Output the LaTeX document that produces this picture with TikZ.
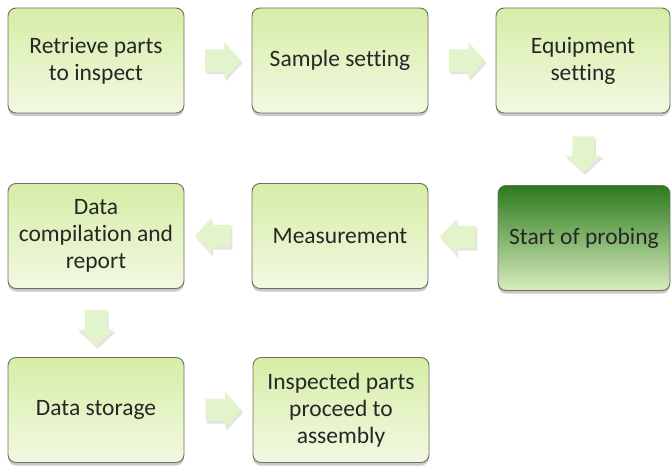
\documentclass[tikz,border=0pt]{standalone}
\usepackage{fontspec}
\setmainfont{Carlito}[Ligatures=NoCommon]
\usetikzlibrary{shapes.arrows,shadows}
\definecolor{boxtop}{HTML}{D6EDA6}
\definecolor{boxbot}{HTML}{F2F9E2}
\definecolor{boxedge}{HTML}{6E7060}
\definecolor{darktop}{HTML}{2C7A1C}
\definecolor{darkbot}{HTML}{D8EDBE}
\definecolor{arrtop}{HTML}{E3F3CC}
\definecolor{txt}{HTML}{262626}
\tikzset{
  stepbox/.style={draw=boxedge, line width=0.9pt, rounded corners=8pt,
    minimum width=176pt, minimum height=105pt, align=center,
    top color=boxtop, bottom color=boxbot, text=txt,
    font=\fontsize{23.5}{27}\selectfont,
    drop shadow={shadow xshift=0pt, shadow yshift=-3pt, opacity=0.35, fill=black!60}},
  darkbox/.style={stepbox, top color=darktop, bottom color=darkbot},
  blockarrow/.style={single arrow, draw=none, minimum height=36pt,
    inner sep=11pt, single arrow head extend=7pt,
    single arrow tip angle=95, fill=arrtop,
    drop shadow={shadow xshift=1.5pt, shadow yshift=-2.5pt, opacity=0.22, fill=black!50}}
}
\begin{document}
\begin{tikzpicture}[x=1pt,y=-1pt]
\useasboundingbox (0,0) rectangle (671,468);
\node[stepbox] (b1) at (96,60.5) {Retrieve parts\\to inspect};
\node[stepbox] (b2) at (340,60.5) {Sample setting};
\node[stepbox, minimum width=174pt] (b3) at (583,60.5) {Equipment\\setting};
\node[darkbox, minimum width=172pt] (b4) at (584,238) {Start of probing};
\node[stepbox] (b5) at (340,236) {Measurement};
\node[stepbox] (b6) at (96,236) {Data\\compilation and\\report};
\node[stepbox] (b7) at (96,410) {Data storage};
\node[stepbox] (b8) at (341,410) {Inspected parts\\proceed to\\assembly};
\path (b1.east) -- (b2.west) node[midway, blockarrow] (a1) {};
\path (b2.east) -- (b3.west) node[midway, blockarrow] (a2) {};
\path (b3.south) -- (b4.north) node[midway, blockarrow, shape border rotate=270] (a3) {};
\path (b4.west) -- (b5.east) node[midway, blockarrow, shape border rotate=180] (a4) {};
\path (b5.west) -- (b6.east) node[midway, blockarrow, shape border rotate=180] (a5) {};
\path (b6.south) -- (b7.north) node[midway, blockarrow, shape border rotate=270] (a6) {};
\path (b7.east) -- (b8.west) node[midway, blockarrow] (a7) {};
\end{tikzpicture}
\end{document}
